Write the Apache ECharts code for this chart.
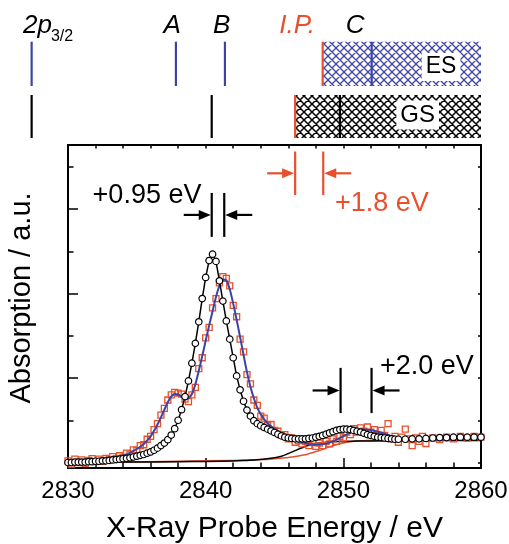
<!DOCTYPE html>
<html><head><meta charset="utf-8">
<script src="https://cdn.jsdelivr.net/npm/echarts@6/dist/echarts.min.js"></script>
<style>html,body{margin:0;padding:0;background:#fff}#c{width:509px;height:544px}</style>
</head><body><div id="c"></div>
<script>
// ---------- DATA ----------
// Ground state (GS) experimental spectrum (open circles)
const gsE = [2830.00,2830.25,2830.50,2830.75,2831.00,2831.25,2831.50,2831.75,2832.00,2832.25,2832.50,2832.75,2833.00,2833.25,2833.50,2833.75,2834.00,2834.25,2834.50,2834.75,2835.00,2835.25,2835.50,2835.75,2836.00,2836.25,2836.50,2836.75,2837.00,2837.25,2837.50,2837.75,2838.00,2838.25,2838.50,2838.75,2839.00,2839.25,2839.50,2839.75,2840.00,2840.25,2840.50,2840.75,2841.00,2841.25,2841.50,2841.75,2842.00,2842.25,2842.50,2842.75,2843.00,2843.25,2843.50,2843.75,2844.00,2844.25,2844.50,2844.75,2845.00,2845.25,2845.50,2845.75,2846.00,2846.25,2846.50,2846.75,2847.00,2847.25,2847.50,2847.75,2848.00,2848.25,2848.50,2848.75,2849.00,2849.25,2849.50,2849.75,2850.00,2850.25,2850.50,2850.75,2851.00,2851.25,2851.50,2851.75,2852.00,2852.25,2852.50,2852.75,2853.00,2853.25,2853.50,2853.75,2854.00,2854.50,2855.00,2855.50,2856.00,2856.50,2857.00,2857.50,2858.00,2858.50,2859.00,2859.50,2860.00];
const gsV = [0.00,0.00,0.01,0.01,0.01,0.01,0.02,0.02,0.03,0.03,0.04,0.04,0.05,0.06,0.07,0.08,0.09,0.10,0.11,0.13,0.15,0.17,0.19,0.22,0.25,0.29,0.34,0.40,0.46,0.54,0.65,0.80,1.00,1.25,1.56,1.93,2.35,2.82,3.33,3.88,4.38,4.78,4.93,4.76,4.30,3.82,3.35,2.92,2.48,2.05,1.72,1.45,1.24,1.10,0.99,0.92,0.87,0.83,0.79,0.75,0.71,0.67,0.63,0.60,0.58,0.57,0.56,0.56,0.56,0.56,0.57,0.58,0.60,0.62,0.64,0.67,0.70,0.73,0.76,0.78,0.79,0.79,0.78,0.76,0.74,0.72,0.69,0.66,0.64,0.62,0.60,0.59,0.58,0.57,0.56,0.55,0.55,0.55,0.56,0.56,0.57,0.58,0.59,0.59,0.60,0.60,0.60,0.60,0.60];

// Excited state (ES) experimental spectrum (open squares)
const esE = [2830.00,2830.25,2830.50,2830.75,2831.00,2831.25,2831.50,2831.75,2832.00,2832.25,2832.50,2832.75,2833.00,2833.25,2833.50,2833.75,2834.00,2834.25,2834.50,2834.75,2835.00,2835.25,2835.50,2835.75,2836.00,2836.25,2836.50,2836.75,2837.00,2837.25,2837.50,2837.75,2838.00,2838.25,2838.50,2838.75,2839.00,2839.25,2839.50,2839.75,2840.00,2840.25,2840.50,2840.75,2841.00,2841.25,2841.50,2841.75,2842.00,2842.25,2842.50,2842.75,2843.00,2843.25,2843.50,2843.75,2844.00,2844.25,2844.50,2844.75,2845.00,2845.25,2845.50,2845.75,2846.00,2846.25,2846.50,2846.75,2847.00,2847.25,2847.50,2847.75,2848.00,2848.25,2848.50,2848.75,2849.00,2849.25,2849.50,2849.75,2850.00,2850.25,2850.50,2850.75,2851.00,2851.25,2851.50,2851.75,2852.00,2852.25,2852.50,2852.75,2853.00,2853.25,2853.50,2853.75,2854.00,2854.25,2854.50,2854.75,2855.00,2855.25,2855.50,2855.75,2856.00,2856.50,2857.00,2857.50,2858.00,2858.50,2859.00,2859.50,2860.00];
const esV = [0.04,-0.04,0.08,0.00,0.06,-0.02,0.05,0.09,0.02,0.08,0.03,0.10,0.07,0.14,0.09,0.16,0.12,0.22,0.20,0.30,0.28,0.40,0.42,0.55,0.62,0.78,0.92,1.12,1.28,1.48,1.60,1.66,1.64,1.62,1.50,1.44,1.60,1.78,2.22,2.48,2.95,3.20,3.66,3.88,4.25,4.40,4.36,4.18,3.72,3.45,2.92,2.62,2.08,1.86,1.48,1.35,1.10,1.05,0.88,0.90,0.76,0.74,0.64,0.66,0.56,0.58,0.48,0.52,0.44,0.50,0.40,0.47,0.38,0.46,0.40,0.50,0.44,0.56,0.50,0.62,0.58,0.72,0.66,0.80,0.72,0.82,0.74,0.84,0.72,0.78,0.66,0.76,0.64,0.92,0.56,0.62,0.48,0.60,0.79,0.56,0.40,0.58,0.50,0.62,0.45,0.58,0.54,0.60,0.56,0.62,0.58,0.62,0.60];

// ES fit (blue line)
const fitE = [2830,2830.5,2831,2831.5,2832,2832.5,2833,2833.5,2834,2834.5,2835,2835.5,2836,2836.5,2837,2837.25,2837.5,2837.75,2838,2838.25,2838.5,2838.75,2839,2839.25,2839.5,2839.75,2840,2840.25,2840.5,2840.75,2841,2841.25,2841.5,2841.75,2842,2842.25,2842.5,2842.75,2843,2843.25,2843.5,2843.75,2844,2844.25,2844.5,2844.75,2845,2845.5,2846,2846.5,2847,2847.5,2848,2848.5,2849,2849.5,2850,2850.5,2851,2851.5,2852,2852.5,2853,2853.5,2854,2854.5,2855,2856,2857,2858,2859,2860];
const fitV = [0.02,0.03,0.03,0.04,0.05,0.06,0.08,0.11,0.16,0.23,0.32,0.44,0.62,0.90,1.25,1.43,1.56,1.62,1.61,1.56,1.51,1.52,1.62,1.85,2.17,2.52,2.88,3.24,3.58,3.92,4.18,4.33,4.31,4.10,3.76,3.38,2.97,2.55,2.14,1.80,1.52,1.30,1.14,1.02,0.93,0.86,0.80,0.69,0.60,0.53,0.48,0.44,0.42,0.43,0.47,0.54,0.62,0.70,0.76,0.78,0.77,0.73,0.68,0.62,0.57,0.54,0.53,0.53,0.54,0.55,0.56,0.56];

// Edge-step (arctangent) components
const gsStepE = [2830,2834,2838,2841,2843,2844,2845,2845.5,2846,2846.5,2847,2847.5,2848,2848.5,2849,2850,2852,2856,2860];
const gsStepV = [0.00,0.01,0.02,0.03,0.05,0.07,0.11,0.15,0.21,0.28,0.35,0.41,0.45,0.47,0.49,0.50,0.51,0.52,0.52];
const esStepE = [2830,2834,2838,2842,2844,2845,2846,2846.5,2847,2847.5,2848,2848.5,2849,2849.5,2850,2850.5,2851,2852,2854,2860];
const esStepV = [0.00,0.01,0.03,0.05,0.07,0.09,0.12,0.14,0.17,0.21,0.26,0.31,0.37,0.42,0.46,0.49,0.51,0.52,0.53,0.54];

// Energy-level diagram (eV)
const esLevels = [2827.36, 2837.84, 2841.40, 2852.06];   // 2p3/2, A, B, C (excited state)
const gsLevels = [2827.36, 2840.44, 2849.75];            // 2p3/2, B, C (ground state)
const esIP = 2848.50, gsIP = 2846.50, continuumEnd = 2860;

// Shift annotations
const shiftFrom  = [2840.44, 2846.50, 2849.80];
const shiftTo    = [2841.35, 2848.54, 2852.05];
const shiftTexts = ['+0.95 eV', '+1.8 eV', '+2.0 eV'];

// Axis ticks
const yMajorTicks = [2, 4, 6];
const yMinorTicks = [0, 1, 3, 5, 7];
const yRightTicks = [0, 1, 2, 3, 4, 5, 6, 7];

// ---------- LAYOUT / STYLE ----------
const FONT = 'Liberation Sans, Arial, Helvetica, sans-serif';
const RED = '#e8502d', BLUE = '#3b44a6', BLACK = '#000';
const ROWS = { es: [5.2, 9.63], gs: [0, 4.3] };
const shiftLayout = [
  { top: 6.38, bot: 5.34, tx: 2835.74, ty: 6.33, color: BLACK },
  { top: 7.36, bot: 6.33, tx: 2852.80, ty: 6.14, color: RED },
  { top: 2.24, bot: 1.17, tx: 2856.07, ty: 2.26, color: BLACK }
];
const diagLabels = [
  { t: '2p', x: 2827.79, y: 11.2, size: 26, italic: true, color: BLACK },
  { t: '3/2', x: 2829.57, y: 10.1, size: 16, italic: false, color: BLACK },
  { t: 'A', x: 2837.56, y: 11.2, size: 26, italic: true, color: BLACK },
  { t: 'B', x: 2841.17, y: 11.2, size: 26, italic: true, color: BLACK },
  { t: 'I.P.', x: 2846.64, y: 11.2, size: 26, italic: true, color: RED },
  { t: 'C', x: 2850.85, y: 11.2, size: 26, italic: true, color: BLACK }
];
const boxLabels = [
  { t: 'ES', x: 2857.1, y: 7.1, size: 23 },
  { t: 'GS', x: 2855.4, y: 2.3, size: 24 }
];

function hatch(color, lw) {
  const c = document.createElement('canvas');
  c.width = 8; c.height = 8;
  const g = c.getContext('2d');
  g.strokeStyle = color; g.lineWidth = lw;
  g.beginPath();
  for (const k of [-8, 0, 8]) {
    g.moveTo(k - 2, -2); g.lineTo(k + 10, 10);
    g.moveTo(k + 10, -2); g.lineTo(k - 2, 10);
  }
  g.stroke();
  return c;
}
const esHatch = hatch(BLUE, 1.3);
const gsHatch = hatch(BLACK, 1.5);

const zip = (a, b) => a.map((x, i) => [x, b[i]]);
const yMin = -0.13, yMax = 7.515;

const chart = echarts.init(document.getElementById('c'), null, { renderer: 'canvas' });

const axisLine = { show: true, onZero: false, lineStyle: { color: BLACK, width: 2 } };
const option = {
  animation: false,
  backgroundColor: '#fff',
  textStyle: { fontFamily: FONT },
  grid: [
    { left: 68, right: 28, top: 145, bottom: 76, containLabel: false, outerBoundsMode: 'none' },
    { left: 0, right: 28, top: 0, height: 138, containLabel: false, outerBoundsMode: 'none' }
  ],
  xAxis: [
    { gridIndex: 0, type: 'value', min: 2830, max: 2860, interval: 10, position: 'bottom',
      axisLine: axisLine,
      axisTick: { inside: true, length: 10, lineStyle: { color: BLACK, width: 1.5 } },
      minorTick: { show: true, splitNumber: 5, length: 5.5, lineStyle: { color: BLACK, width: 1.5 } },
      splitLine: { show: false }, minorSplitLine: { show: false },
      axisLabel: { color: BLACK, fontSize: 24, fontFamily: FONT, margin: 11, formatter: v => String(v) },
      name: 'X-Ray Probe Energy / eV', nameLocation: 'middle', nameGap: 46,
      nameTextStyle: { color: BLACK, fontSize: 30, fontFamily: FONT } },
    { gridIndex: 0, type: 'value', min: 2830, max: 2860, interval: 2, position: 'top',
      axisLine: axisLine,
      axisTick: { inside: true, length: 3.5, lineStyle: { color: BLACK, width: 1.5 } },
      axisLabel: { show: false }, splitLine: { show: false } },
    { gridIndex: 1, type: 'value', min: 2825.062, max: 2860, show: false }
  ],
  yAxis: [
    { gridIndex: 0, type: 'value', min: yMin, max: yMax, position: 'left',
      axisLine: axisLine,
      axisTick: { show: true, inside: true, length: 10, customValues: yMajorTicks, lineStyle: { color: BLACK, width: 1.5 } },
      axisLabel: { show: false }, splitLine: { show: false },
      name: 'Absorption / a.u.', nameLocation: 'middle', nameGap: 32, nameRotate: 90,
      nameTextStyle: { color: BLACK, fontSize: 29, fontFamily: FONT, padding: [0, 0, 0, 17] } },
    { gridIndex: 0, type: 'value', min: yMin, max: yMax, position: 'left',
      axisLine: axisLine,
      axisTick: { show: true, inside: true, length: 5.5, customValues: yMinorTicks, lineStyle: { color: BLACK, width: 1.5 } },
      axisLabel: { show: false }, splitLine: { show: false } },
    { gridIndex: 0, type: 'value', min: yMin, max: yMax, position: 'right',
      axisLine: axisLine,
      axisTick: { show: true, inside: true, length: 3, customValues: yRightTicks, lineStyle: { color: BLACK, width: 1.5 } },
      axisLabel: { show: false }, splitLine: { show: false } },
    { gridIndex: 1, type: 'value', min: 0, max: 13.8, show: false }
  ],
  series: [
    { type: 'line', name: 'ES step', xAxisIndex: 0, yAxisIndex: 0, data: zip(esStepE, esStepV),
      smooth: true, showSymbol: false, lineStyle: { color: RED, width: 1.5 }, z: 2 },
    { type: 'line', name: 'GS step', xAxisIndex: 0, yAxisIndex: 0, data: zip(gsStepE, gsStepV),
      smooth: true, showSymbol: false, lineStyle: { color: BLACK, width: 1.5 }, z: 2 },
    { type: 'scatter', name: 'ES exp', xAxisIndex: 0, yAxisIndex: 0, data: zip(esE, esV),
      symbol: 'rect', symbolSize: 6, clip: true,
      itemStyle: { color: 'rgba(255,255,255,0)', borderColor: RED, borderWidth: 1.3, opacity: 1 }, z: 3 },
    { type: 'line', name: 'ES fit', xAxisIndex: 0, yAxisIndex: 0, data: zip(fitE, fitV),
      smooth: 0.3, showSymbol: false, lineStyle: { color: BLUE, width: 2 }, z: 4 },
    { type: 'line', name: 'GS exp', xAxisIndex: 0, yAxisIndex: 0, data: zip(gsE, gsV),
      symbol: 'circle', symbolSize: 6.5, showSymbol: true, showAllSymbol: true,
      itemStyle: { color: '#fff', borderColor: BLACK, borderWidth: 1.2 },
      lineStyle: { color: BLACK, width: 1.5 }, z: 5 },
    // shift annotations
    { type: 'custom', xAxisIndex: 0, yAxisIndex: 0, z: 10,
      data: shiftFrom.map((f, i) => [f, shiftTo[i], i]),
      encode: { x: [0, 1] },
      renderItem: function (params, api) {
        const i = params.dataIndex, L = shiftLayout[i];
        const a1 = api.coord([api.value(0), L.top]), a2 = api.coord([api.value(0), L.bot]);
        const b1 = api.coord([api.value(1), L.top]), b2 = api.coord([api.value(1), L.bot]);
        const ym = (a1[1] + a2[1]) / 2, xa = a1[0], xb = b1[0];
        const t = api.coord([L.tx, L.ty]);
        const st = { stroke: L.color, lineWidth: 2.2 };
        return { type: 'group', children: [
          { type: 'line', shape: { x1: xa, y1: a1[1], x2: xa, y2: a2[1] }, style: st },
          { type: 'line', shape: { x1: xb, y1: b1[1], x2: xb, y2: b2[1] }, style: st },
          { type: 'line', shape: { x1: xa - 28, y1: ym, x2: xa - 10, y2: ym }, style: st },
          { type: 'polygon', shape: { points: [[xa - 1, ym], [xa - 13, ym - 5], [xa - 13, ym + 5]] }, style: { fill: L.color } },
          { type: 'line', shape: { x1: xb + 28, y1: ym, x2: xb + 10, y2: ym }, style: st },
          { type: 'polygon', shape: { points: [[xb + 1, ym], [xb + 13, ym - 5], [xb + 13, ym + 5]] }, style: { fill: L.color } },
          { type: 'text', style: { text: shiftTexts[i], x: t[0], y: t[1], fill: L.color,
              font: '27px ' + FONT, textAlign: 'center', textVerticalAlign: 'middle', align: 'center', verticalAlign: 'middle' } }
        ] };
      } },
    // continuum hatched regions
    { type: 'custom', xAxisIndex: 2, yAxisIndex: 3, z: 2,
      data: [[esIP, continuumEnd, 1], [gsIP, continuumEnd, 0]],
      encode: { x: [0, 1] },
      renderItem: function (params, api) {
        const isES = api.value(2) === 1, r = isES ? ROWS.es : ROWS.gs;
        const p1 = api.coord([api.value(0), r[1]]), p2 = api.coord([api.value(1), r[0]]);
        return { type: 'rect', shape: { x: p1[0], y: p1[1], width: p2[0] - p1[0], height: p2[1] - p1[1] },
          style: { fill: { image: isES ? esHatch : gsHatch, repeat: 'repeat' } } };
      } },
    // level lines
    { type: 'custom', xAxisIndex: 2, yAxisIndex: 3, z: 5,
      data: esLevels.map(e => [e, 1, 0]).concat(gsLevels.map(e => [e, 0, 0])).concat([[esIP, 1, 1], [gsIP, 0, 1]]),
      encode: { x: 0 },
      renderItem: function (params, api) {
        const isES = api.value(1) === 1, isIP = api.value(2) === 1, r = isES ? ROWS.es : ROWS.gs;
        const p1 = api.coord([api.value(0), r[0]]), p2 = api.coord([api.value(0), r[1]]);
        return { type: 'line', shape: { x1: p1[0], y1: p1[1], x2: p2[0], y2: p2[1] },
          style: { stroke: isIP ? RED : (isES ? BLUE : BLACK), lineWidth: 2.2 } };
      } },
    // diagram labels
    { type: 'scatter', xAxisIndex: 2, yAxisIndex: 3, z: 6, symbolSize: 0, clip: false, silent: true,
      itemStyle: { opacity: 1 },
      data: diagLabels.map(l => ({ value: [l.x, l.y], label: { show: true, position: 'inside', formatter: l.t,
        color: l.color, fontSize: l.size, fontStyle: l.italic ? 'italic' : 'normal', fontFamily: FONT } })) },
    { type: 'scatter', xAxisIndex: 2, yAxisIndex: 3, z: 8, symbolSize: 0, clip: false, silent: true,
      itemStyle: { opacity: 1 },
      data: boxLabels.map(l => ({ value: [l.x, l.y], label: { show: true, position: 'inside', formatter: l.t,
        color: BLACK, fontSize: l.size, fontFamily: FONT, backgroundColor: '#fff', padding: [3, 4, 2, 4] } })) }
  ]
};
chart.setOption(option);
</script>
</body></html>
